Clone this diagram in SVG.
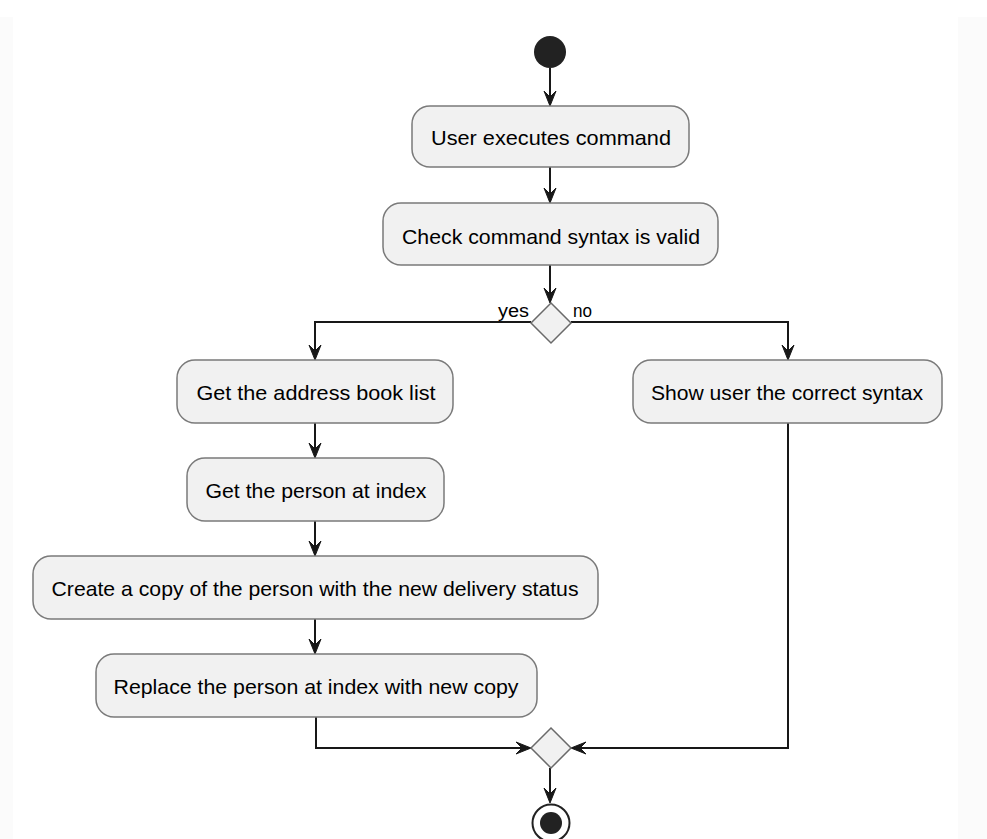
<svg xmlns="http://www.w3.org/2000/svg" width="987" height="839" viewBox="0 0 987 839">
<style>
.box{fill:#F1F1F1;stroke:#7a7a7a;stroke-width:1.5}
.dia{fill:#F1F1F1;stroke:#6a6a6a;stroke-width:1.5}
.t{font-family:"Liberation Sans",Arial,sans-serif;font-size:21px;fill:#000;text-anchor:middle}
.lbl{font-family:"Liberation Sans",Arial,sans-serif;font-size:18px;fill:#000}
.ln{fill:none;stroke:#181818;stroke-width:2}
.ah{fill:#181818;stroke:#181818;stroke-width:1}
</style>
<rect x="0" y="0" width="987" height="839" fill="#ffffff"/>
<rect x="0" y="17" width="13" height="822" fill="#fbfbfb"/>
<rect x="958" y="17" width="29" height="822" fill="#fbfbfb"/>
<g id="connectors">
<path class="ln" d="M550 68 V104"/>
<polygon class="ah" points="544,91 550,106 556,91 550,97"/>
<path class="ln" d="M550 167 V201"/>
<polygon class="ah" points="544,188 550,203 556,188 550,194"/>
<path class="ln" d="M550 265 V301"/>
<polygon class="ah" points="544,288 550,303 556,288 550,294"/>
<path class="ln" d="M531 322 H315 V358"/>
<polygon class="ah" points="309,345 315,360 321,345 315,351"/>
<path class="ln" d="M571 322 H788 V358"/>
<polygon class="ah" points="782,345 788,360 794,345 788,351"/>
<path class="ln" d="M315 423 V456"/>
<polygon class="ah" points="309,443 315,458 321,443 315,449"/>
<path class="ln" d="M315 521 V554"/>
<polygon class="ah" points="309,541 315,556 321,541 315,547"/>
<path class="ln" d="M315 619 V652"/>
<polygon class="ah" points="309,639 315,654 321,639 315,645"/>
<path class="ln" d="M316 717 V748 H529"/>
<polygon class="ah" points="516,742 531,748 516,754 522,748"/>
<path class="ln" d="M788 423 V748 H573"/>
<polygon class="ah" points="586,742 571,748 586,754 580,748"/>
<path class="ln" d="M550 768 V801"/>
<polygon class="ah" points="544,788 550,803 556,788 550,794"/>
</g>
<g id="start"><circle cx="550" cy="52" r="16" fill="#222222"/></g>
<g id="n1"><rect class="box" x="412" y="106" width="277" height="61" rx="18"/><text class="t" x="551" y="145" textLength="240" lengthAdjust="spacingAndGlyphs">User executes command</text></g>
<g id="n2"><rect class="box" x="383" y="203" width="335" height="62" rx="18"/><text class="t" x="551" y="244" textLength="298" lengthAdjust="spacingAndGlyphs">Check command syntax is valid</text></g>
<g id="d1"><polygon class="dia" points="551,303 571,323 551,343 531,323"/>
<text class="lbl" x="498" y="317" textLength="31" lengthAdjust="spacingAndGlyphs">yes</text>
<text class="lbl" x="573" y="317" textLength="19" lengthAdjust="spacingAndGlyphs">no</text></g>
<g id="n3"><rect class="box" x="177" y="360" width="276" height="63" rx="18"/><text class="t" x="316" y="400" textLength="239" lengthAdjust="spacingAndGlyphs">Get the address book list</text></g>
<g id="n4"><rect class="box" x="187" y="458" width="257" height="63" rx="18"/><text class="t" x="316" y="498" textLength="221" lengthAdjust="spacingAndGlyphs">Get the person at index</text></g>
<g id="n5"><rect class="box" x="33" y="556" width="565" height="63" rx="18"/><text class="t" x="315" y="596" textLength="527" lengthAdjust="spacingAndGlyphs">Create a copy of the person with the new delivery status</text></g>
<g id="n6"><rect class="box" x="96" y="654" width="441" height="63" rx="18"/><text class="t" x="316" y="694" textLength="405" lengthAdjust="spacingAndGlyphs">Replace the person at index with new copy</text></g>
<g id="n7"><rect class="box" x="633" y="360" width="309" height="63" rx="18"/><text class="t" x="787" y="400" textLength="272" lengthAdjust="spacingAndGlyphs">Show user the correct syntax</text></g>
<g id="d2"><polygon class="dia" points="551,728 571,748 551,768 531,748"/></g>
<g id="end"><circle cx="551" cy="823" r="18.5" fill="none" stroke="#222222" stroke-width="2"/><circle cx="551" cy="823" r="11" fill="#222222"/></g>
</svg>
